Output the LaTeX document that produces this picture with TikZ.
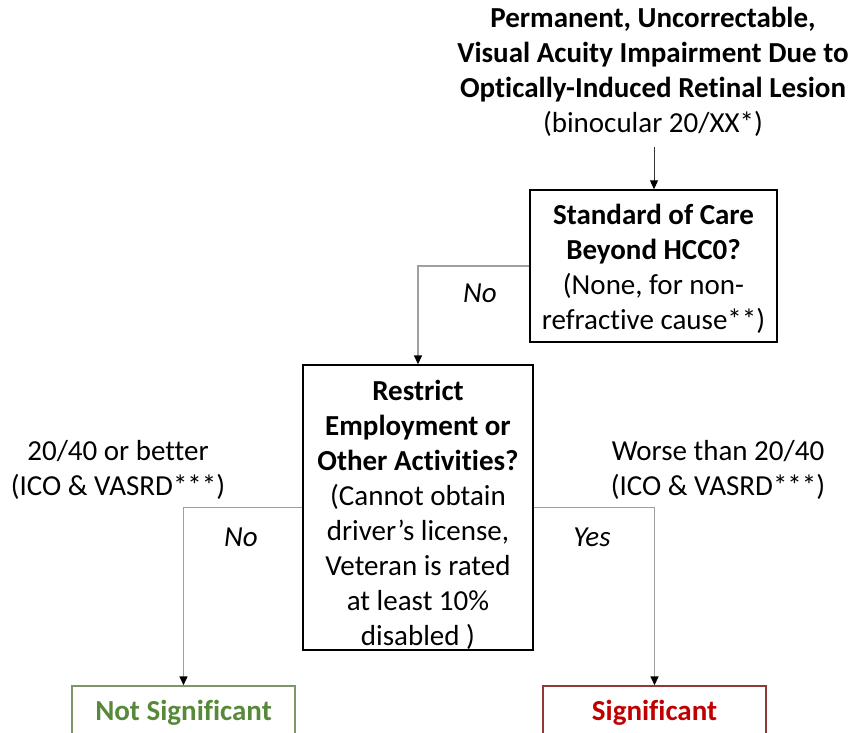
\documentclass[tikz,border=0pt]{standalone}
\usepackage{fontspec}
\setmainfont{Carlito}[Ligatures={NoCommon}]
\usetikzlibrary{arrows.meta}
\definecolor{okgreen}{RGB}{88,136,58}
\definecolor{okgreenline}{RGB}{125,150,105}
\definecolor{badred}{RGB}{192,0,0}
\definecolor{badredline}{RGB}{150,55,55}
\definecolor{connGray}{RGB}{160,160,160}
\newcommand{\fs}{\fontsize{29}{35}\selectfont}
\tikzset{
  txt/.style={font=\fs, align=center, inner sep=0pt},
  decbox/.style={draw=black, line width=1.4pt, font=\fs, align=center, inner sep=0pt},
  endbox/.style={line width=1.4pt, font=\fs\bfseries, inner sep=0pt, minimum width=223pt, minimum height=54pt},
  conn/.style={draw=connGray, line width=1.4pt, -{Triangle[length=9pt,width=8pt,color=black]}},
  topconn/.style={draw=black!80, line width=1pt, -{Triangle[length=9pt,width=8pt,color=black]}}
}
\begin{document}
\begin{tikzpicture}[x=1pt,y=-1pt]
\useasboundingbox (0,0) rectangle (848,732);
\clip (0,0) rectangle (848,732);
\node[txt] (top) at (653,72) {\textbf{Permanent, Uncorrectable,}\\\textbf{Visual Acuity Impairment Due to}\\\textbf{Optically-Induced Retinal Lesion}\\(binocular 20/XX*)};
\node[decbox, minimum width=247pt, minimum height=152pt] (b1) at (653.5,266) {\rule{0pt}{27pt}\textbf{Standard of Care}\\\textbf{Beyond HCC0?}\\(None, for non-\\refractive cause**)};
\node[decbox, minimum width=230pt, minimum height=285pt] (b2) at (418,507.5) {\rule{0pt}{34pt}\textbf{Restrict}\\\textbf{Employment or}\\\textbf{Other Activities?}\\(Cannot obtain\\driver’s license,\\Veteran is rated\\at least 10\%\\disabled )};
\node[endbox, draw=okgreenline, text=okgreen] (ns) at (183.5,713) {Not Significant};
\node[endbox, draw=badredline, text=badred] (sg) at (654.5,713) {Significant};
\node[txt] (lbl) at (118,470) {20/40 or better\\(ICO \& VASRD***)};
\node[txt] (lbr) at (718,470) {Worse than 20/40\\(ICO \& VASRD***)};
\node[txt, font=\fs\itshape] (no1) at (480,293) {No};
\node[txt, font=\fs\itshape] (no2) at (241,537) {No};
\node[txt, font=\fs\itshape] (yes) at (592,537) {Yes};
\coordinate (a0) at (654,147);
\draw[topconn] (a0) -- (b1.north -| a0);
\draw[conn] (b1.west) -| (b2.north);
\draw[conn] (b2.west) -| (ns.north);
\draw[conn] (b2.east) -| (sg.north);
\end{tikzpicture}
\end{document}
